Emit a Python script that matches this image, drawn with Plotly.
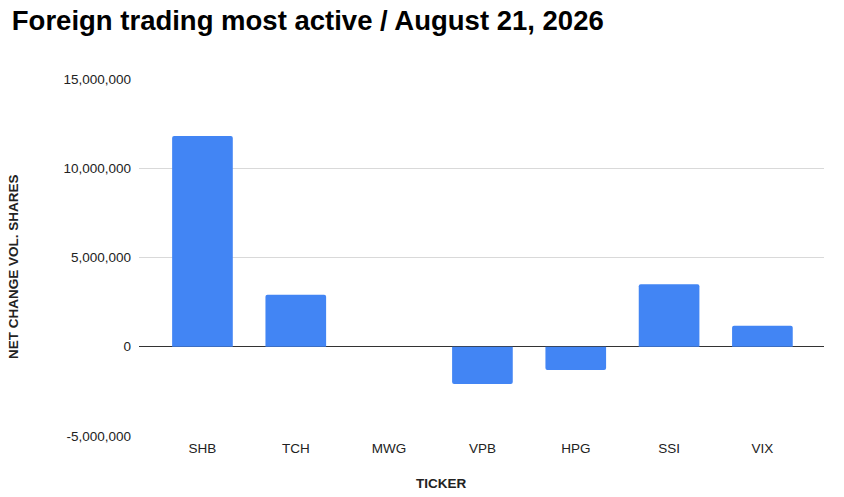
import plotly.graph_objects as go

# data
tickers = ["SHB", "TCH", "MWG", "VPB", "HPG", "SSI", "VIX"]
net_change = [11800000, 2920000, 0, -2090000, -1300000, 3500000, 1180000]
y_ticks = [-5000000, 0, 5000000, 10000000, 15000000]
y_labels = ["-5,000,000", "0", "5,000,000", "10,000,000", "15,000,000"]

fig = go.Figure(go.Bar(
    x=list(range(len(tickers))),
    y=net_change,
    marker=dict(color="#4285f4", line=dict(width=0), cornerradius=2),
))

fig.update_layout(
    width=844, height=497,
    margin=dict(l=139, r=20, t=79, b=61),
    paper_bgcolor="white", plot_bgcolor="white",
    font=dict(family="Liberation Sans, Arial, sans-serif", size=13.5, color="#222222"),
    title=dict(
        text="<b>Foreign trading most active / August 21, 2026</b>",
        x=0.014, xanchor="left", y=0.96, yanchor="middle",
        font=dict(size=27.5, color="#000000"),
    ),
    bargap=0.35,
    showlegend=False,
)

fig.update_xaxes(
    range=[-0.68, 6.66],
    tickvals=list(range(len(tickers))), ticktext=tickers,
    showgrid=False, zeroline=False, showline=False, ticks="",
    ticklabelstandoff=2,
)

fig.update_yaxes(
    range=[-5000000, 15000000],
    tickvals=y_ticks, ticktext=y_labels,
    showgrid=True, gridcolor="#d9d9d9", gridwidth=1,
    zeroline=True, zerolinecolor="#333333", zerolinewidth=1,
    showline=False, ticks="", ticklabelstandoff=7,
)

# axis titles as annotations (they are not centred on the plot area in the original)
fig.add_annotation(text="<b>TICKER</b>", xref="paper", yref="paper",
                   x=0.441, y=-0.132, xanchor="center", yanchor="middle",
                   showarrow=False, font=dict(size=13.5, color="#222222"))
fig.add_annotation(text="<b>NET CHANGE VOL. SHARES</b>", textangle=-90,
                   xref="paper", yref="paper", x=-0.183, y=0.475,
                   xanchor="center", yanchor="middle",
                   showarrow=False, font=dict(size=13.5, color="#222222"))

# page has a default body margin; drop it so the figure sits at the top-left corner
fig.write_html("out.html", config={"displayModeBar": False},
               post_script="document.body.style.margin='0';")
